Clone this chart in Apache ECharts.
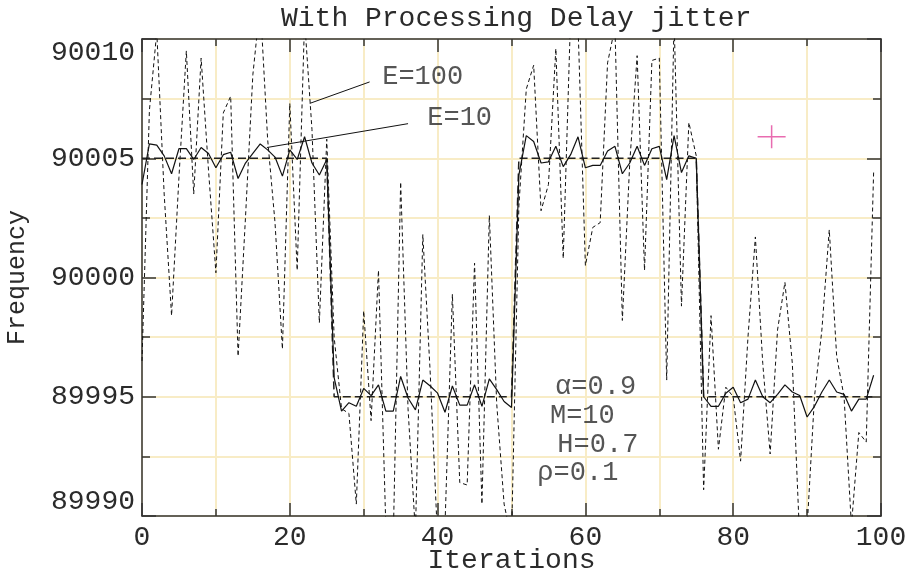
<!DOCTYPE html>
<html>
<head>
<meta charset="utf-8">
<script src="https://cdn.jsdelivr.net/npm/echarts@6/dist/echarts.min.js"></script>
<style>
  html, body { margin: 0; padding: 0; background: #fff; }
  #chart { width: 909px; height: 571px; }
</style>
</head>
<body>
<div id="chart"></div>
<script>
// iterations 0..99
const e10 = [
  90003.9, 90005.6, 90005.55, 90005.1, 90004.35, 90005.4, 90005.4, 90004.95, 90005.45, 90005.2,
  90004.6, 90005.15, 90005.25, 90004.15, 90004.8, 90005.2, 90005.6, 90005.35, 90005.05, 90004.25,
  90005.35, 90004.95, 90005.9, 90004.8, 90004.3, 90004.95, 89995.8, 89994.4, 89994.75, 89994.6,
  89995.35, 89995.05, 89995.5, 89994.4, 89994.4, 89995.85, 89994.95, 89994.45, 89995.7, 89995.45,
  89995.15, 89994.35, 89995.45, 89994.65, 89994.65, 89995.5, 89994.6, 89995.75, 89995.3, 89994.8,
  89994.55, 90004.3, 90005.95, 90005.7, 90004.8, 90004.85, 90005.5, 90004.65, 90005.15, 90005.9,
  90004.6, 90004.7, 90004.7, 90005.3, 90005.5, 90004.35, 90004.8, 90005.5, 90004.7, 90005.4,
  90005.5, 90004.1, 90005.95, 90004.4, 90005.1, 90005.0, 89995.0, 89994.6, 89994.6, 89995.15,
  89995.4, 89994.75, 89994.9, 89995.7, 89995.0, 89994.75, 89995.1, 89995.5, 89995.2, 89995.05,
  89994.15, 89994.6, 89995.2, 89995.7, 89995.2, 89995.1, 89994.4, 89994.9, 89994.9, 89995.9
];

const e100 = [
  89996.5, 90007.0, 90010.3, 90003.5, 89998.4, 90004.2, 90009.5, 90003.5, 90009.2, 90004.5,
  90000.2, 90006.9, 90007.6, 89996.7, 90002.5, 90008.5, 90011.5, 90005.8, 90002.3, 89997.0,
  90007.3, 90000.3, 90010.8, 90006.2, 89998.1, 90005.8, 89997.5, 89994.5, 89994.3, 89990.5,
  89998.6, 89994.0, 90000.3, 89989.5, 89989.0, 90004.0, 89994.5, 89989.3, 90001.8, 89996.0,
  89989.0, 89989.6, 89999.3, 89991.4, 89991.3, 90000.6, 89990.5, 90002.6, 89994.7, 89990.5,
  89989.0, 90003.0, 90007.9, 90008.9, 90002.8, 90003.9, 90009.6, 90000.8, 90011.0, 90010.6,
  90000.5, 90002.1, 90002.3, 90009.0, 90010.5, 89998.2, 90004.8, 90009.3, 90000.3, 90009.1,
  90009.2, 89995.7, 90010.8, 89998.8, 90006.5, 90005.1, 89991.1, 89998.4, 89992.8, 89995.4,
  89995.0, 89992.3, 89997.5, 90001.7, 89996.4, 89992.6, 89997.8, 89999.8, 89996.4, 89989.0,
  89989.5, 89995.0, 89997.8, 90002.0, 89996.7, 89995.0, 89989.6, 89993.5, 89993.1, 90004.4
];

// reference frequency (steps)
const setpoint = [
  [0, 90005], [25, 90005], [26, 89995], [50, 89995],
  [51, 90005], [75, 90005], [76, 89995], [99, 89995]
];

const crossMark = [[85.2, 90005.9]];

const notes = [
  { name: 'E=100', value: [32.5, 90008.4] },
  { name: 'E=10', value: [38.6, 90006.7] },
  { name: 'α=0.9', value: [55.9, 89995.4] },
  { name: 'M=10', value: [55.2, 89994.2] },
  { name: 'H=0.7', value: [56.2, 89993.0] },
  { name: 'ρ=0.1', value: [53.5, 89991.8] }
];

const FONT = 'Liberation Mono';
const TEXT_COLOR = '#2b2b2b';
const GRID_COLOR = '#f8ecc6';
const AXIS_COLOR = '#333';

const toPairs = (arr) => arr.map((v, i) => [i, v]);

const baseX = {
  type: 'value',
  min: 0,
  max: 100,
  interval: 20,
  axisLine: { show: true, onZero: false, lineStyle: { color: AXIS_COLOR, width: 1.5 } },
  axisTick: { show: true, inside: true, length: 13, lineStyle: { color: AXIS_COLOR, width: 1.5 } },
  minorTick: { show: true, splitNumber: 2, length: 7, lineStyle: { color: AXIS_COLOR, width: 1.5 } },
};
const baseY = {
  type: 'value',
  min: 89990,
  max: 90010,
  interval: 5,
  axisLine: { show: true, onZero: false, lineStyle: { color: AXIS_COLOR, width: 1.5 } },
  axisTick: { show: true, inside: true, length: 14, lineStyle: { color: AXIS_COLOR, width: 1.5 } },
  minorTick: { show: true, splitNumber: 2, length: 8, lineStyle: { color: AXIS_COLOR, width: 1.5 } },
};

const chart = echarts.init(document.getElementById('chart'), null, { renderer: 'canvas' });

chart.setOption({
  animation: false,
  backgroundColor: '#fff',
  title: {
    text: 'With Processing Delay jitter',
    left: 276,
    top: 0,
    textStyle: { fontFamily: FONT, fontSize: 28, fontWeight: 'normal', color: TEXT_COLOR },
  },
  grid: { left: 142, right: 28, top: 39, bottom: 55, outerBoundsMode: 'none', containLabel: false },
  xAxis: [
    {
      ...baseX,
      position: 'bottom',
      name: 'Iterations',
      nameLocation: 'middle',
      nameGap: 31,
      nameMoveOverlap: false,
      nameTextStyle: { fontFamily: FONT, fontSize: 28, color: TEXT_COLOR },
      axisLabel: { margin: 8, fontFamily: FONT, fontSize: 28, color: TEXT_COLOR },
      splitLine: { show: true, lineStyle: { color: GRID_COLOR, width: 2 } },
      minorSplitLine: { show: true, lineStyle: { color: GRID_COLOR, width: 2 } },
    },
    {
      ...baseX,
      position: 'top',
      axisLabel: { show: false },
      splitLine: { show: false },
      minorSplitLine: { show: false },
    },
  ],
  yAxis: [
    {
      ...baseY,
      position: 'left',
      name: 'Frequency',
      nameLocation: 'middle',
      nameGap: 112,
      nameRotate: 90,
      nameMoveOverlap: false,
      nameTextStyle: { fontFamily: FONT, fontSize: 25, color: TEXT_COLOR },
      axisLabel: {
        margin: 7,
        fontFamily: FONT,
        fontSize: 28,
        color: TEXT_COLOR,
        formatter: (v) => String(v),
        verticalAlignMaxLabel: 'top',
        verticalAlignMinLabel: 'bottom',
      },
      splitLine: { show: true, lineStyle: { color: GRID_COLOR, width: 2 } },
      minorSplitLine: { show: true, lineStyle: { color: GRID_COLOR, width: 2 } },
    },
    {
      ...baseY,
      position: 'right',
      axisLabel: { show: false },
      splitLine: { show: false },
      minorSplitLine: { show: false },
    },
  ],
  series: [
    {
      name: 'E=100',
      type: 'line',
      data: toPairs(e100),
      showSymbol: false,
      clip: true,
      lineStyle: { color: '#111', width: 1, type: [4, 3] },
      z: 3,
    },
    {
      name: 'reference',
      type: 'line',
      data: setpoint,
      showSymbol: false,
      clip: true,
      lineStyle: { color: '#222', width: 1.5, type: [8, 4] },
      z: 4,
    },
    {
      name: 'E=10',
      type: 'line',
      data: toPairs(e10),
      showSymbol: false,
      clip: true,
      lineStyle: { color: '#111', width: 1.2 },
      z: 5,
    },
    {
      name: 'cross',
      type: 'scatter',
      data: crossMark,
      symbol: 'path://M0,10.75h28v1.5h-28zM13.25,0h1.5v23h-1.5z',
      symbolSize: [28, 23],
      symbolKeepAspect: false,
      itemStyle: { color: '#e2479c' },
      z: 6,
    },
    {
      name: 'notes',
      type: 'scatter',
      data: notes,
      symbolSize: 0,
      silent: true,
      label: {
        show: true,
        position: 'right',
        distance: 0,
        formatter: (p) => p.name,
        fontFamily: FONT,
        fontSize: 27,
        color: TEXT_COLOR,
      },
      markLine: {
        silent: true,
        symbol: ['none', 'none'],
        label: { show: false },
        lineStyle: { color: '#111', width: 1, type: 'solid' },
        data: [
          [{ coord: [22.7, 90007.3] }, { coord: [30.8, 90008.2] }],
          [{ coord: [16.9, 90005.45] }, { coord: [36.0, 90006.45] }],
        ],
      },
      z: 6,
    },
  ],
});
</script>
</body>
</html>
